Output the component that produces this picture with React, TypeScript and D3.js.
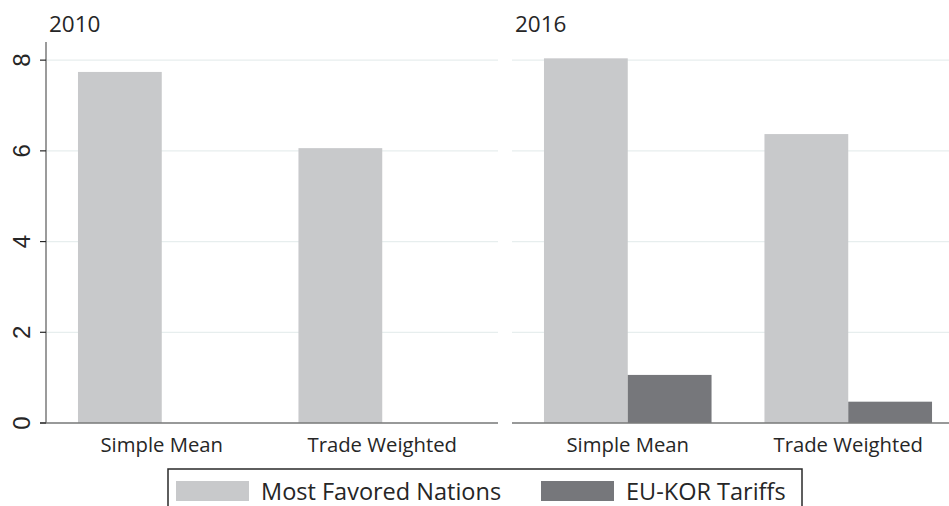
import React from "react";
import * as d3 from "d3";

const categories = ["Simple Mean", "Trade Weighted"];
const seriesNames = ["Most Favored Nations", "EU-KOR Tariffs"];
const mfn2010 = [7.74, 6.06];
const kor2010 = [0, 0];
const mfn2016 = [8.04, 6.37];
const kor2016 = [1.06, 0.47];
const yTicks = [0, 2, 4, 6, 8];
const panels = [
  { title: "2010", mfn: mfn2010, kor: kor2010 },
  { title: "2016", mfn: mfn2016, kor: kor2016 },
];

const W = 949;
const H = 506;
const colors = ["#c8c9cb", "#76777b"];
const gridColor = "#e7eeee";
const axisColor = "#7a7a7a";
const textColor = "#262626";
const labelFont = "'Open Sans', sans-serif";
const tickFont = "'Liberation Sans', Arial, sans-serif";

export default function App() {
  const y = d3.scaleLinear().domain([0, 8.4]).range([423, 42]);
  const panelRanges: [number, number][] = [
    [46, 498],
    [512, 964],
  ];
  return (
    <svg
      width={W}
      height={H}
      style={{ position: "absolute", left: 0, top: 0, background: "#fff" }}
    >
      <rect x={0} y={0} width={W} height={H} fill="#fff" />
      {panels.map((p, pi) => {
        const [x0, x1] = panelRanges[pi];
        const xg = d3
          .scaleBand<string>()
          .domain(categories)
          .range([x0, x1])
          .paddingInner(0.24)
          .paddingOuter(0.145);
        const xs = d3
          .scaleBand<string>()
          .domain(seriesNames)
          .range([0, xg.bandwidth()])
          .padding(0);
        const vals = [p.mfn, p.kor];
        return (
          <g key={p.title}>
            {yTicks.map((t) => (
              <line
                key={t}
                x1={x0}
                x2={x1}
                y1={y(t)}
                y2={y(t)}
                stroke={gridColor}
                strokeWidth={1.2}
              />
            ))}
            {categories.map((c, ci) =>
              seriesNames.map((s, si) => {
                const v = vals[si][ci];
                if (v <= 0) return null;
                return (
                  <rect
                    key={c + s}
                    x={(xg(c) as number) + (xs(s) as number)}
                    y={y(v)}
                    width={xs.bandwidth()}
                    height={y(0) - y(v)}
                    fill={colors[si]}
                  />
                );
              })
            )}
            <line
              x1={pi === 0 ? 40 : x0}
              x2={x1}
              y1={y(0)}
              y2={y(0)}
              stroke={axisColor}
              strokeWidth={1.5}
            />
            {categories.map((c) => (
              <text
                key={c}
                x={(xg(c) as number) + xg.bandwidth() / 2}
                y={452}
                textAnchor="middle"
                fontFamily={labelFont}
                fontSize={20.3}
                fill={textColor}
              >
                {c}
              </text>
            ))}
            <text
              x={pi === 0 ? 49 : 515}
              y={32}
              fontFamily={labelFont}
              fontSize={22.5}
              fill={textColor}
            >
              {p.title}
            </text>
            {pi === 0 && (
              <g>
                <line
                  x1={x0}
                  x2={x0}
                  y1={y.range()[1]}
                  y2={y(0)}
                  stroke={axisColor}
                  strokeWidth={1.5}
                />
                {yTicks.map((t) => (
                  <g key={t}>
                    <line
                      x1={40}
                      x2={x0}
                      y1={y(t)}
                      y2={y(t)}
                      stroke={textColor}
                      strokeWidth={1.2}
                    />
                    <text
                      transform={`translate(30,${y(t)}) rotate(-90)`}
                      textAnchor="middle"
                      fontFamily={tickFont}
                      fontSize={24}
                      fill={textColor}
                    >
                      {t}
                    </text>
                  </g>
                ))}
              </g>
            )}
          </g>
        );
      })}
      <g>
        <rect
          x={168}
          y={469}
          width={634}
          height={60}
          fill="#fff"
          stroke="#2a2a2a"
          strokeWidth={1.5}
        />
        {seriesNames.map((s, i) => {
          const sx = i === 0 ? 176 : 541;
          return (
            <g key={s}>
              <rect x={sx} y={481} width={73} height={20} fill={colors[i]} />
              <text
                x={sx + 85}
                y={500}
                fontFamily={labelFont}
                fontSize={23.5}
                fill={textColor}
              >
                {s}
              </text>
            </g>
          );
        })}
      </g>
    </svg>
  );
}
